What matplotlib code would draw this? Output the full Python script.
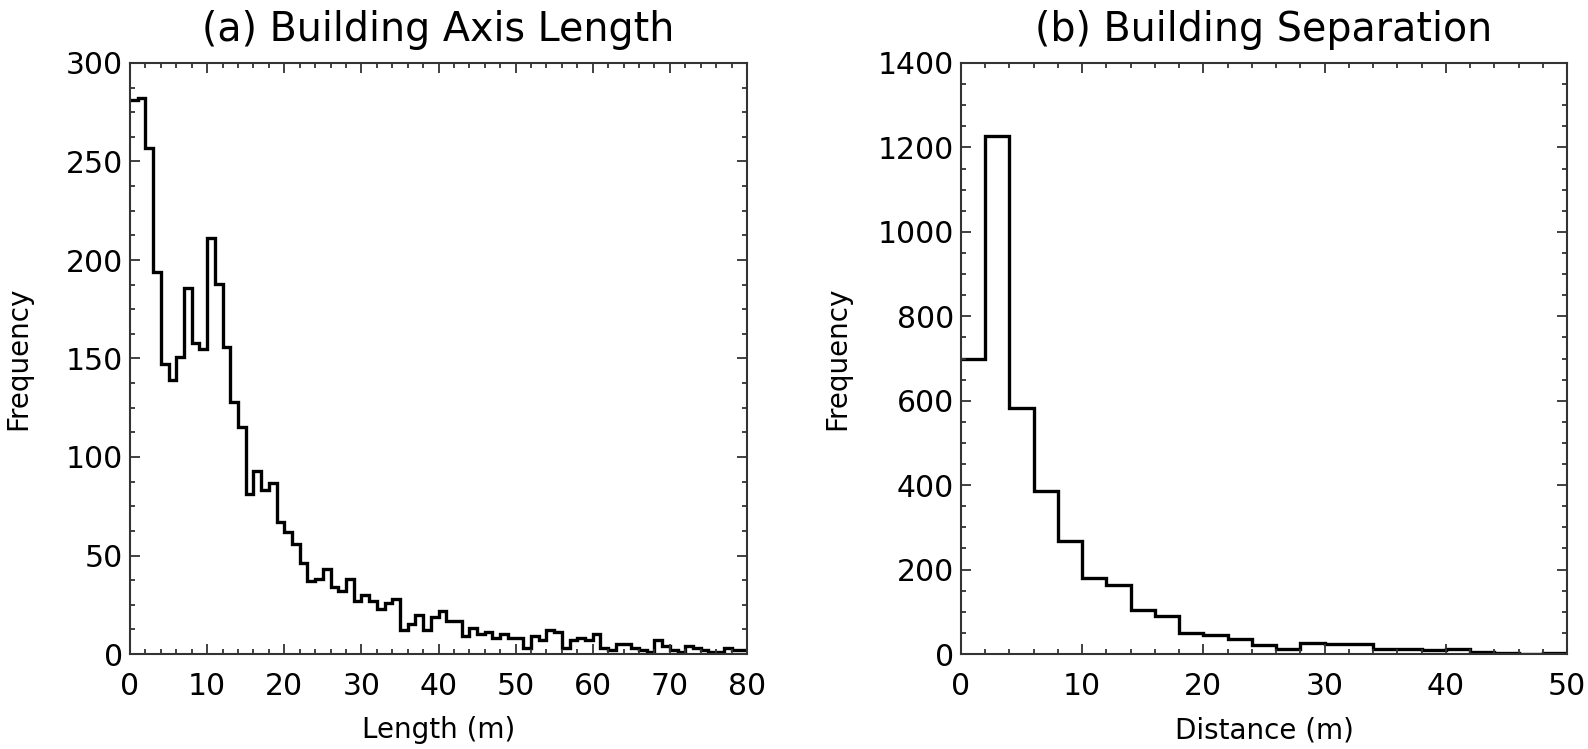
"""Histograms of building axis length and building separation."""

import matplotlib.pyplot as plt
import numpy as np
from matplotlib.ticker import MultipleLocator

# (a) building axis length, 1 m bins from 0 to 80 m
length_bin_width = 1
length_counts = [
    281, 282, 257, 194, 147, 139, 151, 186, 158, 155,
    211, 188, 156, 128, 115, 81, 93, 83, 87, 67,
    62, 56, 46, 37, 38, 43, 34, 32, 38, 27,
    30, 27, 23, 26, 28, 12, 15, 20, 12, 19,
    22, 17, 17, 9, 13, 10, 11, 8, 10, 8,
    8, 3, 9, 7, 12, 11, 3, 7, 8, 7,
    10, 3, 2, 5, 5, 3, 2, 1, 7, 4,
    2, 1, 4, 3, 2, 1, 1, 3, 2, 2,
]

# (b) building separation, 2 m bins from 0 to 50 m
distance_bin_width = 2
distance_counts = [
    700, 1226, 583, 386, 268, 180, 164, 104, 89, 50,
    46, 36, 21, 12, 26, 23, 23, 11, 11, 10,
    13, 5, 2, 1, 3,
]

LINE = "#333333"


def style_axes(ax, xmax, ymax, xmajor, xminor, ymajor, yminor, ypad):
    """Box axes with inward ticks on every side, IDL style."""
    ax.set_xlim(0, xmax)
    ax.set_ylim(0, ymax)
    ax.xaxis.set_major_locator(MultipleLocator(xmajor))
    ax.xaxis.set_minor_locator(MultipleLocator(xminor))
    ax.yaxis.set_major_locator(MultipleLocator(ymajor))
    ax.yaxis.set_minor_locator(MultipleLocator(yminor))
    ax.tick_params(which="both", direction="in", top=True, right=True,
                   color=LINE, width=1.3)
    ax.tick_params(which="major", length=7.5)
    ax.tick_params(which="minor", length=3.8)
    ax.tick_params(axis="x", labelsize=21.5, pad=13)
    ax.tick_params(axis="y", labelsize=21.5, pad=5)
    for spine in ax.spines.values():
        spine.set_color(LINE)
        spine.set_linewidth(1.5)
    ax.set_ylabel("Frequency", fontsize=20, labelpad=ypad)


def main() -> None:
    fig = plt.figure(figsize=(15.88, 7.49), dpi=100)
    W, H = 1588, 749

    # Axes boxes in pixels: left, top, right, bottom
    ax_a = fig.add_axes([130 / W, 1 - 654 / H, 617 / W, 591 / H])
    ax_b = fig.add_axes([961 / W, 1 - 654 / H, 606 / W, 591 / H])

    edges_a = np.arange(len(length_counts) + 1) * length_bin_width
    ax_a.stairs(length_counts, edges_a, color="black", linewidth=2.4,
                baseline=None)
    style_axes(ax_a, 80, 300, 10, 2, 50, 12.5, ypad=24)
    ax_a.set_xlabel("Length (m)", fontsize=20, labelpad=11)
    ax_a.set_title("(a) Building Axis Length", fontsize=28.5, pad=16)

    edges_b = np.arange(len(distance_counts) + 1) * distance_bin_width
    ax_b.stairs(distance_counts, edges_b, color="black", linewidth=2.4,
                baseline=None)
    style_axes(ax_b, 50, 1400, 10, 2, 200, 50, ypad=19)
    ax_b.set_xlabel("Distance (m)", fontsize=20, labelpad=11)
    ax_b.set_title("(b) Building Separation", fontsize=28.5, pad=16)

    fig.savefig("out.png", dpi=100)


if __name__ == "__main__":
    main()
